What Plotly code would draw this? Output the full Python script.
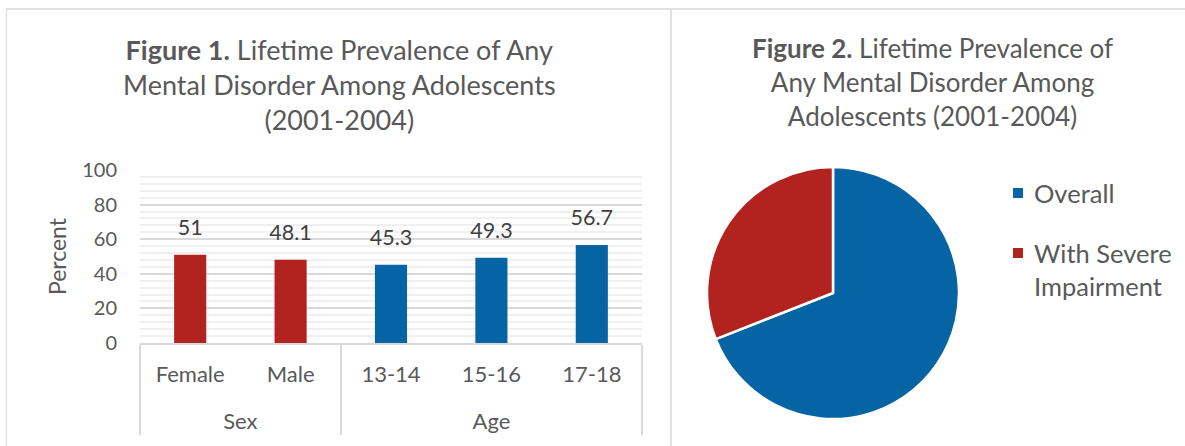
import plotly.graph_objects as go

# ---- data ----
groups = ["Sex", "Sex", "Age", "Age", "Age"]
categories = ["Female", "Male", "13-14", "15-16", "17-18"]
percent = [51, 48.1, 45.3, 49.3, 56.7]

pie_labels = ["Overall", "With Severe<br>Impairment"]
pie_values = [49.5, 22.2]

RED = "#B2231F"
BLUE = "#0664A5"
TXT = "#595959"
FONT = "Lato"
bar_colors = [RED if g == "Sex" else BLUE for g in groups]
pie_colors = [BLUE, RED]
# group row sits one text line lower, as in the original
group_row = ["<br>" + g for g in groups]

W, H = 1185, 446
def px(x):
    return x / W
def py(y):
    return 1 - y / H

fig = go.Figure()

fig.add_trace(go.Bar(
    x=[group_row, categories], y=percent,
    marker=dict(color=bar_colors, line=dict(width=0)),
    width=0.32, showlegend=False, hoverinfo="y",
))

fig.add_trace(go.Scatter(
    x=[group_row, categories], y=percent,
    mode="markers+text", text=[str(v) for v in percent],
    textposition="top center",
    marker=dict(size=22, opacity=0),
    textfont=dict(family=FONT, size=21.5, color="#404040"),
    showlegend=False, hoverinfo="skip", cliponaxis=False,
))

fig.add_trace(go.Pie(
    labels=pie_labels, values=pie_values,
    marker=dict(colors=pie_colors, line=dict(color="white", width=2.5)),
    sort=False, direction="clockwise", rotation=0,
    textinfo="none", hoverinfo="label+value",
    domain=dict(x=[px(707), px(959)], y=[py(419), py(167)]),
    showlegend=False,
))

# legend drawn next to the pie, one entry per slice
legend_rows = [193, 253]
annotations = []
shapes = []
for lab, col, yc in zip(pie_labels, pie_colors, legend_rows):
    shapes.append(dict(type="rect", xref="paper", yref="paper",
                       x0=px(1013), x1=px(1023), y0=py(yc + 5), y1=py(yc - 5),
                       fillcolor=col, line=dict(width=0)))
    annotations.append(dict(text=lab, x=px(1032), y=py(yc - 17), xref="paper", yref="paper",
                            xanchor="left", yanchor="top", align="left", showarrow=False,
                            font=dict(family=FONT, size=25.5, color=TXT)))

annotations += [
    dict(text="<b>Figure 1.</b> Lifetime Prevalence of Any<br>Mental Disorder Among Adolescents<br>(2001-2004)",
         x=px(339), y=py(84), xref="paper", yref="paper",
         xanchor="center", yanchor="middle", showarrow=False,
         font=dict(family=FONT, size=27, color=TXT)),
    dict(text="<b>Figure 2.</b> Lifetime Prevalence of<br>Any Mental Disorder Among<br>Adolescents (2001-2004)",
         x=px(932), y=py(82), xref="paper", yref="paper",
         xanchor="center", yanchor="middle", showarrow=False,
         font=dict(family=FONT, size=26, color=TXT)),
]

shapes += [
    dict(type="line", xref="paper", yref="paper", x0=px(6), x1=1, y0=py(9), y1=py(9),
         line=dict(color="#d9d9d9", width=1.5)),
    dict(type="line", xref="paper", yref="paper", x0=px(6.5), x1=px(6.5), y0=py(9), y1=0,
         line=dict(color="#e3e3e3", width=1.5)),
    dict(type="line", xref="paper", yref="paper", x0=px(671), x1=px(671), y0=py(9), y1=0,
         line=dict(color="#d9d9d9", width=1.5)),
]

fig.update_layout(
    width=W, height=H,
    margin=dict(l=0, r=0, t=0, b=0, autoexpand=False),
    paper_bgcolor="white", plot_bgcolor="white",
    font=dict(family=FONT, color=TXT),
    showlegend=False,
    xaxis=dict(
        domain=[px(140), px(642)],
        type="multicategory", automargin=False,
        showline=True, linecolor="#d9d9d9", linewidth=1.5,
        showdividers=True, dividercolor="#d9d9d9", dividerwidth=1.5,
        tickfont=dict(family=FONT, size=22, color=TXT),
        ticks="", ticklabelstandoff=11,
        showgrid=False,
    ),
    yaxis=dict(
        domain=[py(343), py(170)], automargin=False,
        range=[0, 100], dtick=20,
        showgrid=True, gridcolor="#d9d9d9", gridwidth=1.5,
        minor=dict(dtick=4, showgrid=True, gridcolor="#f0f0f0", gridwidth=1.5),
        zeroline=False, showline=False,
        tickfont=dict(family=FONT, size=20, color=TXT),
        ticklabelstandoff=22,
        title=dict(text="Percent", font=dict(family=FONT, size=23, color=TXT), standoff=9),
    ),
    annotations=annotations,
    shapes=shapes,
)

fig.write_html("out.html")
